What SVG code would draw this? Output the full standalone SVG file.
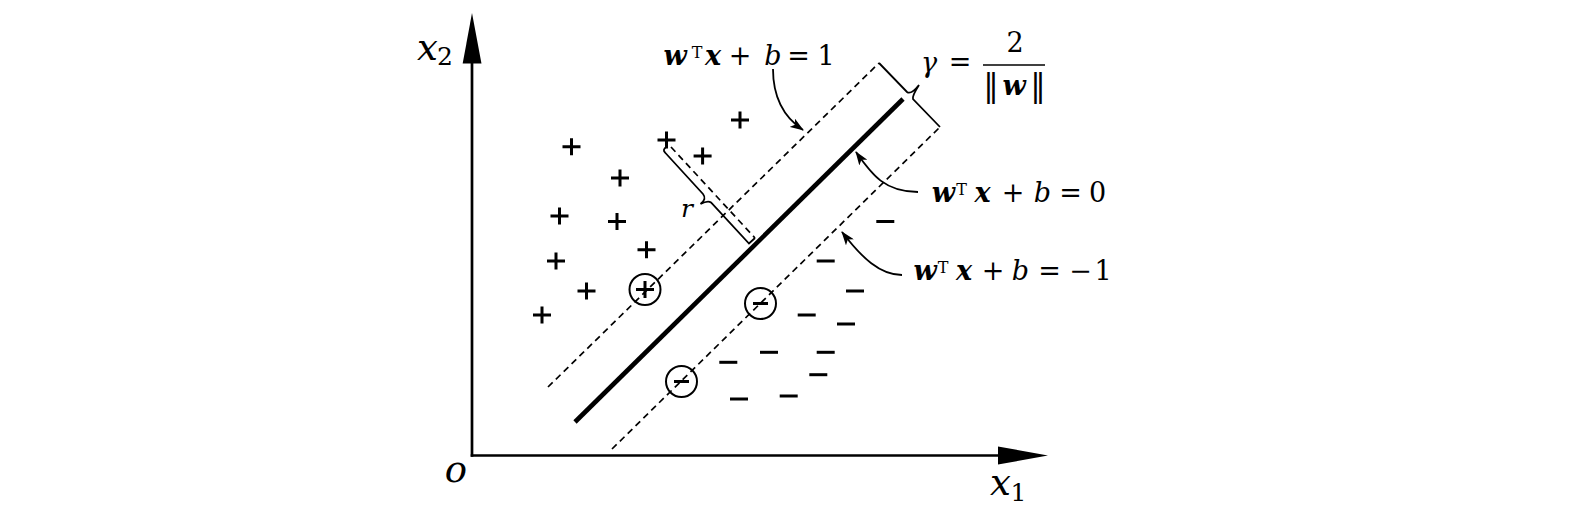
<svg xmlns="http://www.w3.org/2000/svg" width="1578" height="510" viewBox="0 0 1578 510">
<style>
 .ax{stroke:#000;stroke-width:2.7;fill:none}
 .head{fill:#000;stroke:none}
 .thick{stroke:#000;stroke-width:4.6;fill:none}
 .dash{stroke:#000;stroke-width:1.7;stroke-dasharray:6.5 4.5;fill:none}
 .br{stroke:#000;stroke-width:1.8;fill:none;stroke-linejoin:miter}
 .sym{stroke:#000;stroke-width:3;fill:none}
 .circ{stroke:#000;stroke-width:2;fill:none}
 .conn{stroke:#000;stroke-width:1.8;fill:none}
 text{font-family:"DejaVu Serif","Liberation Serif",serif;fill:#000;text-anchor:middle}
 .t{font-size:27px}
 .bi{font-weight:bold;font-style:italic}
 .i{font-style:italic}
 .sup{font-size:16px;font-style:normal;font-weight:normal}
 .bar{font-size:31px;font-style:normal;font-weight:normal}
 .axl{font-size:37px;font-style:italic}
 .sub{font-size:25px;font-style:normal}
</style>
<defs>
 <marker id="ah" markerUnits="userSpaceOnUse" markerWidth="14" markerHeight="10" refX="13" refY="5" orient="auto"><path d="M0,0 L14,5 L0,10 L3.5,5 z" fill="#000"/></marker>
 <path id="p" d="M-9,0H9M0,-8.5V8.5"/>
 <path id="m" d="M-9,0H9"/>
 <path id="ms" d="M-7.5,0H7.5"/>
</defs>

<g id="axes">
 <line class="ax" x1="472" y1="456.8" x2="472" y2="60"/>
 <polygon class="head" points="472,13 462.7,63.5 481.5,63.5"/>
 <line class="ax" x1="470.7" y1="455.5" x2="1000" y2="455.5"/>
 <polygon class="head" points="1048,455.5 998,446.5 998,464.5"/>
</g>

<g id="lines">
 <line class="thick" x1="575" y1="422" x2="903" y2="99"/>
 <line class="dash" x1="548" y1="387" x2="879" y2="63"/>
 <line class="dash" x1="612" y1="449" x2="940" y2="127"/>
 <path id="gamma-brace" class="br" d="M879,63 L907,92 Q911,95 919,85 Q912,96 913,99 L940,127"/>
 <line id="r-dash" class="dash" x1="671" y1="147" x2="755" y2="238"/>
 <path id="r-brace" class="br" d="M667,146.5 Q662,149.5 665,152.5 L703,194 Q707,199 700.5,204 Q708,200 711,202.5 L749,243.5 L755,238"/>
</g>

<g id="positives" class="sym">
 <use href="#p" x="571.5" y="146.7"/>
 <use href="#p" x="620" y="178"/>
 <use href="#p" x="559.5" y="216"/>
 <use href="#p" x="617" y="221.5"/>
 <use href="#p" x="646.5" y="249.8"/>
 <use href="#p" x="556" y="261"/>
 <use href="#p" x="586.5" y="291"/>
 <use href="#p" x="542" y="315"/>
 <use href="#p" x="666.5" y="140"/>
 <use href="#p" x="702.6" y="156"/>
 <use href="#p" x="740" y="120"/>
</g>

<g id="negatives" class="sym">
 <use href="#m" x="885.3" y="221.5"/>
 <use href="#m" x="825.7" y="261"/>
 <use href="#m" x="855" y="291"/>
 <use href="#m" x="806.7" y="315"/>
 <use href="#m" x="846" y="324"/>
 <use href="#m" x="769" y="352.3"/>
 <use href="#m" x="728.3" y="362.3"/>
 <use href="#m" x="825.7" y="352.3"/>
 <use href="#m" x="818.3" y="374.7"/>
 <use href="#m" x="739" y="399"/>
 <use href="#m" x="788.7" y="396"/>
</g>

<g id="support-vectors">
 <g id="sv-plus"><circle class="circ" cx="645" cy="289.5" r="15.5"/><use class="sym" href="#p" x="645" y="289.5"/></g>
 <g id="sv-minus-1"><circle class="circ" cx="760.5" cy="303.5" r="15.5"/><use class="sym" href="#ms" x="760.5" y="303.5"/></g>
 <g id="sv-minus-2"><circle class="circ" cx="681.5" cy="381.5" r="15.5"/><use class="sym" href="#ms" x="681.5" y="381.5"/></g>
</g>

<g id="connectors">
 <path class="conn" d="M773,69 C773,100 785,118 803,130" marker-end="url(#ah)"/>
 <path class="conn" d="M918,192 C885,192 872,175 856,152" marker-end="url(#ah)"/>
 <path class="conn" d="M902,275 C880,275 862,258 842,232" marker-end="url(#ah)"/>
</g>

<g id="labels">
 <text class="t"><tspan class="bi" x="675" y="65">w</tspan><tspan class="sup" x="697" y="58">T</tspan><tspan class="bi" x="713" y="65">x</tspan><tspan x="740" y="65">+</tspan><tspan class="i" x="773" y="65">b</tspan><tspan x="798.5" y="65">=</tspan><tspan x="826" y="65">1</tspan></text>
 <text class="t"><tspan class="bi" x="943.3" y="202">w</tspan><tspan class="sup" x="961.7" y="195">T</tspan><tspan class="bi" x="982.5" y="202">x</tspan><tspan x="1013" y="202">+</tspan><tspan class="i" x="1042.5" y="202">b</tspan><tspan x="1070.5" y="202">=</tspan><tspan x="1097.5" y="202">0</tspan></text>
 <text class="t"><tspan class="bi" x="925" y="280">w</tspan><tspan class="sup" x="943" y="273">T</tspan><tspan class="bi" x="964" y="280">x</tspan><tspan x="993" y="280">+</tspan><tspan class="i" x="1020.5" y="280">b</tspan><tspan x="1049.5" y="280">=</tspan><tspan x="1080.5" y="280">−</tspan><tspan x="1103" y="280">1</tspan></text>
 <text class="t"><tspan class="i" x="929" y="72">γ</tspan><tspan x="960" y="71">=</tspan><tspan x="1015" y="52">2</tspan></text>
 <line x1="983" y1="65" x2="1045" y2="65" stroke="#000" stroke-width="1.5"/>
 <text class="t"><tspan class="bar" x="991" y="96">‖</tspan><tspan class="bi" x="1014" y="95">w</tspan><tspan class="bar" x="1038" y="96">‖</tspan></text>
 <text class="i" x="687" y="217" font-size="25">r</text>
 <text class="axl"><tspan x="427.5" y="60">x</tspan><tspan class="sub" x="445" y="65">2</tspan></text>
 <text class="axl"><tspan x="1000.5" y="495">x</tspan><tspan class="sub" x="1018.5" y="501">1</tspan></text>
 <text class="axl" x="456" y="482">o</text>
</g>
</svg>
